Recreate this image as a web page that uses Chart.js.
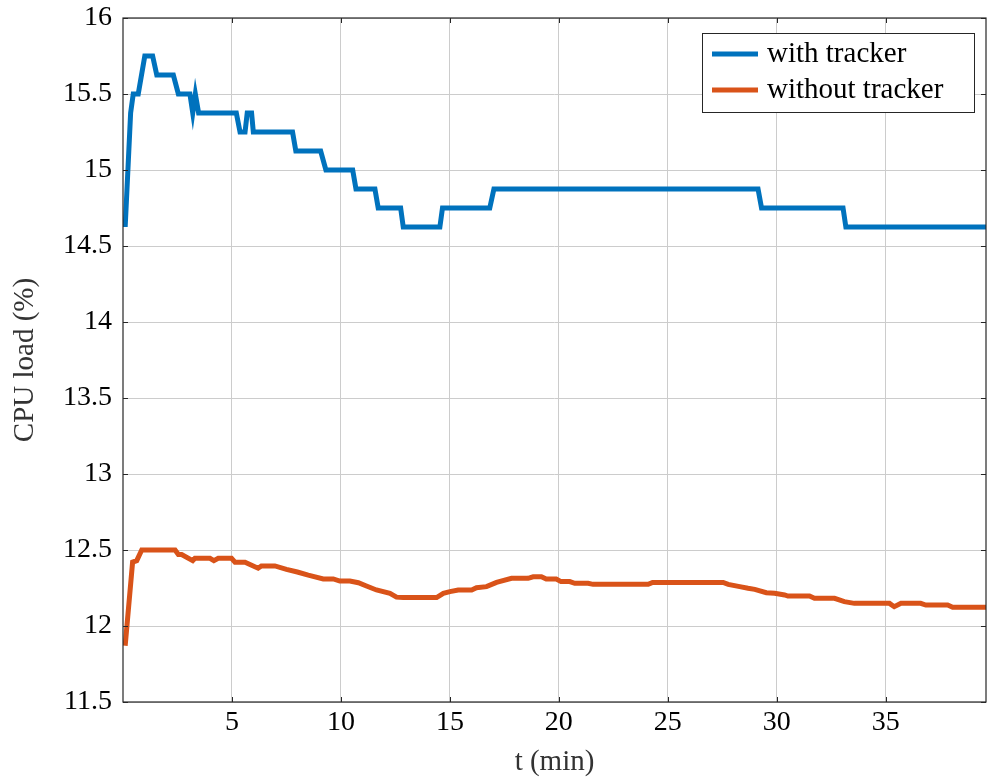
<!DOCTYPE html>
<html>
<head>
<meta charset="utf-8">
<title>CPU load</title>
<script src="https://cdn.jsdelivr.net/npm/chart.js@4/dist/chart.umd.min.js"></script>
<style>
  html, body { margin: 0; padding: 0; background: #ffffff; }
  #wrap { width: 987px; height: 780px; }
</style>
</head>
<body>
<div id="wrap"><canvas id="cpu" width="987" height="780"></canvas></div>
<script>
// Time stamps (min) and CPU load (%) for the run with the tracker enabled
const withTrackerT = [0.1, 0.35, 0.47, 0.7, 1.0, 1.36, 1.55, 2.31, 2.54, 3.07, 3.2, 3.32, 3.47, 5.2, 5.37, 5.6, 5.7, 5.9, 5.98, 7.78, 7.93, 9.07, 9.31, 10.54, 10.69, 11.56, 11.71, 12.74, 12.86, 14.54, 14.66, 16.83, 17.02, 29.14, 29.3, 33.04, 33.17, 39.6];
const withTrackerLoad = [14.625, 15.375, 15.5, 15.5, 15.75, 15.75, 15.625, 15.625, 15.5, 15.5, 15.375, 15.5, 15.375, 15.375, 15.25, 15.25, 15.375, 15.375, 15.25, 15.25, 15.125, 15.125, 15.0, 15.0, 14.875, 14.875, 14.75, 14.75, 14.625, 14.625, 14.75, 14.75, 14.875, 14.875, 14.75, 14.75, 14.625, 14.625];

// Time stamps (min) and CPU load (%) for the run without the tracker
const withoutTrackerT = [0.1, 0.44, 0.63, 0.86, 2.39, 2.54, 2.69, 3.2, 3.3, 3.99, 4.17, 4.37, 4.98, 5.14, 5.6, 5.75, 6.2, 6.35, 6.97, 7.5, 8.0, 8.5, 9.19, 9.65, 9.95, 10.41, 10.8, 11.17, 11.63, 12.25, 12.55, 12.86, 14.39, 14.7, 15.0, 15.38, 16.0, 16.22, 16.68, 17.14, 17.83, 18.59, 18.82, 19.2, 19.42, 19.88, 20.1, 20.5, 20.73, 21.34, 21.57, 24.1, 24.3, 27.54, 27.77, 28.3, 28.68, 28.99, 29.52, 29.9, 30.36, 30.51, 31.5, 31.73, 32.65, 33.1, 33.56, 35.17, 35.39, 35.7, 36.6, 36.84, 37.84, 38.07, 39.6];
const withoutTrackerLoad = [11.87, 12.42, 12.43, 12.5, 12.5, 12.47, 12.47, 12.43, 12.445, 12.445, 12.43, 12.445, 12.445, 12.42, 12.42, 12.41, 12.38, 12.395, 12.395, 12.373, 12.355, 12.335, 12.31, 12.31, 12.296, 12.296, 12.285, 12.263, 12.237, 12.215, 12.19, 12.187, 12.187, 12.215, 12.226, 12.237, 12.237, 12.252, 12.259, 12.287, 12.314, 12.314, 12.324, 12.324, 12.309, 12.309, 12.292, 12.292, 12.281, 12.281, 12.274, 12.274, 12.287, 12.287, 12.274, 12.259, 12.248, 12.241, 12.219, 12.215, 12.204, 12.197, 12.197, 12.182, 12.182, 12.16, 12.149, 12.149, 12.127, 12.149, 12.149, 12.138, 12.138, 12.123, 12.123];

// Axis tick values
const xTickValues = [5, 10, 15, 20, 25, 30, 35];
const yTickValues = [11.5, 12, 12.5, 13, 13.5, 14, 14.5, 15, 15.5, 16];

const seriesNames = ['with tracker', 'without tracker'];

const FONT = '"Liberation Serif", "DejaVu Serif", serif';
const AXIS_COLOR = '#262626';

function toPoints(ts, vs) {
  return ts.map((t, i) => ({ x: t, y: vs[i] }));
}

// Box around the plot area with inward tick marks, plus an inset legend
const framePlugin = {
  id: 'frameAndLegend',
  afterDatasetsDraw(chart) {
    const { ctx, chartArea: a, scales } = chart;
    ctx.save();
    ctx.strokeStyle = AXIS_COLOR;
    ctx.lineWidth = 1.2;
    ctx.strokeRect(a.left, a.top, a.right - a.left, a.bottom - a.top);

    const tl = 5;
    ctx.beginPath();
    scales.y.ticks.forEach(t => {
      const py = Math.round(scales.y.getPixelForValue(t.value)) + 0.5;
      ctx.moveTo(a.left, py); ctx.lineTo(a.left + tl, py);
      ctx.moveTo(a.right, py); ctx.lineTo(a.right - tl, py);
    });
    scales.x.ticks.forEach(t => {
      const px = Math.round(scales.x.getPixelForValue(t.value)) + 0.5;
      ctx.moveTo(px, a.bottom); ctx.lineTo(px, a.bottom - tl);
      ctx.moveTo(px, a.top); ctx.lineTo(px, a.top + tl);
    });
    ctx.lineWidth = 1;
    ctx.stroke();

    // Legend box in the upper right corner
    const box = { x: 702, y: 33, w: 272, h: 79 };
    ctx.fillStyle = '#ffffff';
    ctx.fillRect(box.x, box.y, box.w, box.h);
    ctx.strokeStyle = AXIS_COLOR;
    ctx.lineWidth = 1;
    ctx.strokeRect(box.x + 0.5, box.y + 0.5, box.w, box.h);
    ctx.font = '29px ' + FONT;
    ctx.textBaseline = 'middle';
    ctx.textAlign = 'left';
    chart.data.datasets.forEach((ds, i) => {
      const ry = box.y + 21 + i * 36;
      ctx.strokeStyle = ds.borderColor;
      ctx.lineWidth = 5;
      ctx.beginPath();
      ctx.moveTo(box.x + 10, ry);
      ctx.lineTo(box.x + 56, ry);
      ctx.stroke();
      ctx.fillStyle = '#000000';
      ctx.fillText(ds.label, box.x + 65, ry);
    });
    ctx.restore();
  }
};

new Chart(document.getElementById('cpu'), {
  type: 'line',
  data: {
    datasets: [
      {
        label: seriesNames[0],
        data: toPoints(withTrackerT, withTrackerLoad),
        borderColor: '#0072BD',
        borderWidth: 5,
        pointRadius: 0,
        tension: 0,
        fill: false
      },
      {
        label: seriesNames[1],
        data: toPoints(withoutTrackerT, withoutTrackerLoad),
        borderColor: '#D95319',
        borderWidth: 5,
        pointRadius: 0,
        tension: 0,
        fill: false
      }
    ]
  },
  options: {
    responsive: false,
    animation: false,
    devicePixelRatio: 1,
    layout: { padding: { top: 18, right: 1, left: 0, bottom: 0 } },
    plugins: {
      legend: { display: false },
      tooltip: { enabled: false }
    },
    scales: {
      x: {
        type: 'linear',
        min: 0,
        max: 39.6,
        afterBuildTicks(scale) {
          scale.ticks = xTickValues.map(v => ({ value: v }));
        },
        afterFit(scale) {
          scale.height = 78;
          scale.paddingLeft = 0;
          scale.paddingRight = 0;
        },
        ticks: {
          font: { family: FONT, size: 28 },
          color: '#000000',
          padding: 4,
          maxRotation: 0
        },
        grid: { color: '#cccccc', lineWidth: 1, drawTicks: false },
        border: { display: false },
        title: {
          display: true,
          text: 't (min)',
          font: { family: FONT, size: 29 },
          color: '#333333',
          padding: 0
        }
      },
      y: {
        type: 'linear',
        min: 11.5,
        max: 16,
        afterBuildTicks(scale) {
          scale.ticks = yTickValues.map(v => ({ value: v }));
        },
        afterFit(scale) {
          scale.width = 123;
          scale.paddingTop = 0;
          scale.paddingBottom = 0;
        },
        ticks: {
          font: { family: FONT, size: 28 },
          color: '#000000',
          padding: 11,
          callback: v => String(v)
        },
        grid: { color: '#cccccc', lineWidth: 1, drawTicks: false },
        border: { display: false },
        title: {
          display: true,
          text: 'CPU load (%)',
          font: { family: FONT, size: 29 },
          color: '#333333',
          padding: { top: 8, bottom: 8 }
        }
      }
    }
  },
  plugins: [framePlugin]
});
</script>
</body>
</html>
